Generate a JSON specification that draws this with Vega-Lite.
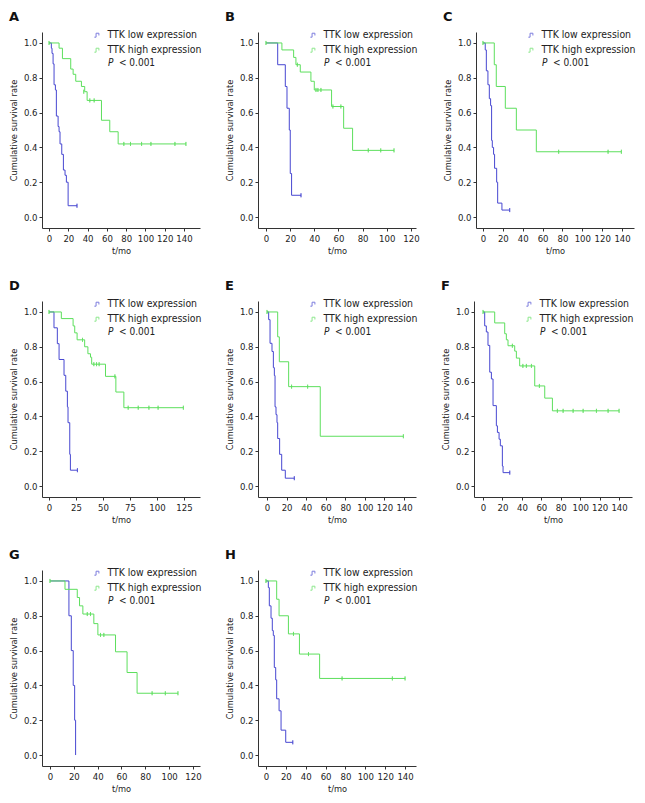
{
  "$schema": "https://vega.github.io/schema/vega-lite/v6.json",
  "padding": {"left": 9, "top": 11, "right": 0, "bottom": 0},
  "config": {
    "font": "DejaVu Sans Condensed, Liberation Sans, sans-serif",
    "view": {"stroke": null},
    "axis": {"grid": false, "domainColor": "#333333", "tickColor": "#333333", "tickSize": 3, "labelFontSize": 9.5, "titleFontSize": 9.2, "titleFontWeight": "normal", "labelColor": "#222222", "titleColor": "#222222", "labelFlush": false, "labelOverlap": false, "labelBound": false},
    "axisX": {"labelPadding": 2, "titlePadding": 4},
    "axisY": {"labelPadding": 2, "titlePadding": 5},
    "legend": {"orient": "top-right", "offset": -2, "padding": 0, "rowPadding": 4, "labelFontSize": 10.4, "labelOffset": 5, "labelColor": "#222222", "symbolType": "M-1,0.7H-0.4V-0.7H0.6V0.1", "symbolSize": 32, "symbolStrokeWidth": 1, "symbolFillColor": "transparent"},
    "title": {"anchor": "start", "frame": "group", "fontSize": 13, "fontWeight": "bold", "font": "DejaVu Sans", "dx": -33, "offset": 6, "color": "#111111"},
    "text": {"fontSize": 10, "color": "#222222"}
  },
  "datasets": {
    "curves": [
      {"p":"A","g":"TTK low expression","t":0,"s":1},{"p":"A","g":"TTK low expression","t":2.4,"s":0.97},{"p":"A","g":"TTK low expression","t":3.1,"s":0.94},{"p":"A","g":"TTK low expression","t":4.2,"s":0.88},{"p":"A","g":"TTK low expression","t":5.2,"s":0.76},{"p":"A","g":"TTK low expression","t":6.6,"s":0.73},{"p":"A","g":"TTK low expression","t":7.6,"s":0.58},{"p":"A","g":"TTK low expression","t":9.4,"s":0.52},{"p":"A","g":"TTK low expression","t":10.4,"s":0.49},{"p":"A","g":"TTK low expression","t":11.4,"s":0.42},{"p":"A","g":"TTK low expression","t":13.2,"s":0.36},{"p":"A","g":"TTK low expression","t":14.9,"s":0.27},{"p":"A","g":"TTK low expression","t":16.6,"s":0.24},{"p":"A","g":"TTK low expression","t":18,"s":0.2},{"p":"A","g":"TTK low expression","t":19.8,"s":0.065},{"p":"A","g":"TTK low expression","t":29,"s":0.065},
      {"p":"A","g":"TTK high expression","t":0,"s":1},{"p":"A","g":"TTK high expression","t":10.4,"s":0.97},{"p":"A","g":"TTK high expression","t":13.9,"s":0.91},{"p":"A","g":"TTK high expression","t":22.5,"s":0.85},{"p":"A","g":"TTK high expression","t":25,"s":0.82},{"p":"A","g":"TTK high expression","t":27.7,"s":0.78},{"p":"A","g":"TTK high expression","t":33.6,"s":0.75},{"p":"A","g":"TTK high expression","t":37,"s":0.72},{"p":"A","g":"TTK high expression","t":39.5,"s":0.67},{"p":"A","g":"TTK high expression","t":54.4,"s":0.556},{"p":"A","g":"TTK high expression","t":63,"s":0.49},{"p":"A","g":"TTK high expression","t":71.7,"s":0.42},{"p":"A","g":"TTK high expression","t":142,"s":0.42},
      {"p":"B","g":"TTK low expression","t":0,"s":1},{"p":"B","g":"TTK low expression","t":9.7,"s":0.875},{"p":"B","g":"TTK low expression","t":16,"s":0.75},{"p":"B","g":"TTK low expression","t":17.4,"s":0.625},{"p":"B","g":"TTK low expression","t":19.3,"s":0.5},{"p":"B","g":"TTK low expression","t":20.1,"s":0.25},{"p":"B","g":"TTK low expression","t":21.2,"s":0.125},{"p":"B","g":"TTK low expression","t":29,"s":0.125},
      {"p":"B","g":"TTK high expression","t":0,"s":1},{"p":"B","g":"TTK high expression","t":13.2,"s":0.96},{"p":"B","g":"TTK high expression","t":22.9,"s":0.917},{"p":"B","g":"TTK high expression","t":24.8,"s":0.875},{"p":"B","g":"TTK high expression","t":28.4,"s":0.833},{"p":"B","g":"TTK high expression","t":37.2,"s":0.78},{"p":"B","g":"TTK high expression","t":40,"s":0.73},{"p":"B","g":"TTK high expression","t":54.3,"s":0.635},{"p":"B","g":"TTK high expression","t":64.3,"s":0.51},{"p":"B","g":"TTK high expression","t":71.7,"s":0.383},{"p":"B","g":"TTK high expression","t":106,"s":0.383},
      {"p":"C","g":"TTK low expression","t":0,"s":1},{"p":"C","g":"TTK low expression","t":2.3,"s":0.96},{"p":"C","g":"TTK low expression","t":3.4,"s":0.84},{"p":"C","g":"TTK low expression","t":5,"s":0.76},{"p":"C","g":"TTK low expression","t":6.4,"s":0.68},{"p":"C","g":"TTK low expression","t":7.7,"s":0.64},{"p":"C","g":"TTK low expression","t":8.7,"s":0.44},{"p":"C","g":"TTK low expression","t":9.4,"s":0.4},{"p":"C","g":"TTK low expression","t":10.7,"s":0.36},{"p":"C","g":"TTK low expression","t":11.7,"s":0.28},{"p":"C","g":"TTK low expression","t":13.8,"s":0.2},{"p":"C","g":"TTK low expression","t":14.8,"s":0.08},{"p":"C","g":"TTK low expression","t":19.1,"s":0.04},{"p":"C","g":"TTK low expression","t":26.9,"s":0.04},
      {"p":"C","g":"TTK high expression","t":0,"s":1},{"p":"C","g":"TTK high expression","t":11.4,"s":0.875},{"p":"C","g":"TTK high expression","t":13.4,"s":0.75},{"p":"C","g":"TTK high expression","t":22.5,"s":0.625},{"p":"C","g":"TTK high expression","t":33.6,"s":0.5},{"p":"C","g":"TTK high expression","t":53.7,"s":0.375},{"p":"C","g":"TTK high expression","t":139.3,"s":0.375},
      {"p":"D","g":"TTK low expression","t":0,"s":1},{"p":"D","g":"TTK low expression","t":4.6,"s":0.909},{"p":"D","g":"TTK low expression","t":7.7,"s":0.818},{"p":"D","g":"TTK low expression","t":9.3,"s":0.727},{"p":"D","g":"TTK low expression","t":13.9,"s":0.636},{"p":"D","g":"TTK low expression","t":15.5,"s":0.545},{"p":"D","g":"TTK low expression","t":17,"s":0.455},{"p":"D","g":"TTK low expression","t":17.6,"s":0.364},{"p":"D","g":"TTK low expression","t":19.2,"s":0.182},{"p":"D","g":"TTK low expression","t":19.8,"s":0.091},{"p":"D","g":"TTK low expression","t":26.3,"s":0.091},
      {"p":"D","g":"TTK high expression","t":0,"s":1},{"p":"D","g":"TTK high expression","t":11.4,"s":0.962},{"p":"D","g":"TTK high expression","t":22.3,"s":0.92},{"p":"D","g":"TTK high expression","t":23.8,"s":0.88},{"p":"D","g":"TTK high expression","t":26,"s":0.84},{"p":"D","g":"TTK high expression","t":33,"s":0.8},{"p":"D","g":"TTK high expression","t":36,"s":0.76},{"p":"D","g":"TTK high expression","t":38.4,"s":0.74},{"p":"D","g":"TTK high expression","t":39.5,"s":0.7},{"p":"D","g":"TTK high expression","t":52.3,"s":0.63},{"p":"D","g":"TTK high expression","t":61.9,"s":0.54},{"p":"D","g":"TTK high expression","t":69.3,"s":0.45},{"p":"D","g":"TTK high expression","t":124.4,"s":0.45},
      {"p":"E","g":"TTK low expression","t":0,"s":1},{"p":"E","g":"TTK low expression","t":1.7,"s":0.956},{"p":"E","g":"TTK low expression","t":3.1,"s":0.82},{"p":"E","g":"TTK low expression","t":5.1,"s":0.773},{"p":"E","g":"TTK low expression","t":6.5,"s":0.68},{"p":"E","g":"TTK low expression","t":7.5,"s":0.635},{"p":"E","g":"TTK low expression","t":8.2,"s":0.455},{"p":"E","g":"TTK low expression","t":9.2,"s":0.41},{"p":"E","g":"TTK low expression","t":10.2,"s":0.364},{"p":"E","g":"TTK low expression","t":10.9,"s":0.273},{"p":"E","g":"TTK low expression","t":12.9,"s":0.182},{"p":"E","g":"TTK low expression","t":15,"s":0.091},{"p":"E","g":"TTK low expression","t":18.7,"s":0.045},{"p":"E","g":"TTK low expression","t":27.9,"s":0.045},
      {"p":"E","g":"TTK high expression","t":0,"s":1},{"p":"E","g":"TTK high expression","t":10.9,"s":0.857},{"p":"E","g":"TTK high expression","t":12.6,"s":0.714},{"p":"E","g":"TTK high expression","t":22.1,"s":0.571},{"p":"E","g":"TTK high expression","t":54.4,"s":0.286},{"p":"E","g":"TTK high expression","t":139.3,"s":0.286},
      {"p":"F","g":"TTK low expression","t":0,"s":1},{"p":"F","g":"TTK low expression","t":1.7,"s":0.92},{"p":"F","g":"TTK low expression","t":3.4,"s":0.885},{"p":"F","g":"TTK low expression","t":5.1,"s":0.808},{"p":"F","g":"TTK low expression","t":6.9,"s":0.654},{"p":"F","g":"TTK low expression","t":8.6,"s":0.615},{"p":"F","g":"TTK low expression","t":10.3,"s":0.462},{"p":"F","g":"TTK low expression","t":13.7,"s":0.346},{"p":"F","g":"TTK low expression","t":14.8,"s":0.308},{"p":"F","g":"TTK low expression","t":16.5,"s":0.269},{"p":"F","g":"TTK low expression","t":17.8,"s":0.231},{"p":"F","g":"TTK low expression","t":19.9,"s":0.115},{"p":"F","g":"TTK low expression","t":20.6,"s":0.077},{"p":"F","g":"TTK low expression","t":27.5,"s":0.077},
      {"p":"F","g":"TTK high expression","t":0,"s":1},{"p":"F","g":"TTK high expression","t":12,"s":0.937},{"p":"F","g":"TTK high expression","t":22.3,"s":0.875},{"p":"F","g":"TTK high expression","t":24,"s":0.84},{"p":"F","g":"TTK high expression","t":25.7,"s":0.806},{"p":"F","g":"TTK high expression","t":32.6,"s":0.775},{"p":"F","g":"TTK high expression","t":34.3,"s":0.735},{"p":"F","g":"TTK high expression","t":37.7,"s":0.69},{"p":"F","g":"TTK high expression","t":53.2,"s":0.575},{"p":"F","g":"TTK high expression","t":63.5,"s":0.505},{"p":"F","g":"TTK high expression","t":71.4,"s":0.432},{"p":"F","g":"TTK high expression","t":140,"s":0.432},
      {"p":"G","g":"TTK low expression","t":0,"s":1},{"p":"G","g":"TTK low expression","t":15.9,"s":0.8},{"p":"G","g":"TTK low expression","t":17.9,"s":0.6},{"p":"G","g":"TTK low expression","t":19.5,"s":0.4},{"p":"G","g":"TTK low expression","t":20.7,"s":0.2},{"p":"G","g":"TTK low expression","t":21.5,"s":0},
      {"p":"G","g":"TTK high expression","t":0,"s":1},{"p":"G","g":"TTK high expression","t":12.6,"s":0.952},{"p":"G","g":"TTK high expression","t":22.9,"s":0.905},{"p":"G","g":"TTK high expression","t":24.8,"s":0.857},{"p":"G","g":"TTK high expression","t":27.6,"s":0.81},{"p":"G","g":"TTK high expression","t":36.8,"s":0.755},{"p":"G","g":"TTK high expression","t":40.2,"s":0.69},{"p":"G","g":"TTK high expression","t":55,"s":0.593},{"p":"G","g":"TTK high expression","t":64.7,"s":0.474},{"p":"G","g":"TTK high expression","t":73.1,"s":0.355},{"p":"G","g":"TTK high expression","t":107.4,"s":0.355},
      {"p":"H","g":"TTK low expression","t":0,"s":1},{"p":"H","g":"TTK low expression","t":2.4,"s":0.962},{"p":"H","g":"TTK low expression","t":3.4,"s":0.857},{"p":"H","g":"TTK low expression","t":5.1,"s":0.786},{"p":"H","g":"TTK low expression","t":6.4,"s":0.715},{"p":"H","g":"TTK low expression","t":7.4,"s":0.687},{"p":"H","g":"TTK low expression","t":8.4,"s":0.503},{"p":"H","g":"TTK low expression","t":9.8,"s":0.432},{"p":"H","g":"TTK low expression","t":10.8,"s":0.323},{"p":"H","g":"TTK low expression","t":13.2,"s":0.254},{"p":"H","g":"TTK low expression","t":15.2,"s":0.143},{"p":"H","g":"TTK low expression","t":19.9,"s":0.073},{"p":"H","g":"TTK low expression","t":27,"s":0.073},
      {"p":"H","g":"TTK high expression","t":0,"s":1},{"p":"H","g":"TTK high expression","t":10.8,"s":0.895},{"p":"H","g":"TTK high expression","t":13.2,"s":0.8},{"p":"H","g":"TTK high expression","t":22.6,"s":0.696},{"p":"H","g":"TTK high expression","t":33.7,"s":0.58},{"p":"H","g":"TTK high expression","t":54,"s":0.44},{"p":"H","g":"TTK high expression","t":140,"s":0.44}
    ],
    "censored": [
      {"p":"A","g":"TTK low expression","t":29,"s":0.065},
      {"p":"A","g":"TTK high expression","t":0,"s":1},{"p":"A","g":"TTK high expression","t":36,"s":0.72},{"p":"A","g":"TTK high expression","t":42.3,"s":0.67},{"p":"A","g":"TTK high expression","t":46.8,"s":0.67},{"p":"A","g":"TTK high expression","t":77.6,"s":0.42},{"p":"A","g":"TTK high expression","t":84.5,"s":0.42},{"p":"A","g":"TTK high expression","t":96,"s":0.42},{"p":"A","g":"TTK high expression","t":105.7,"s":0.42},{"p":"A","g":"TTK high expression","t":130.6,"s":0.42},{"p":"A","g":"TTK high expression","t":142,"s":0.42},
      {"p":"B","g":"TTK low expression","t":29,"s":0.125},
      {"p":"B","g":"TTK high expression","t":0,"s":1},{"p":"B","g":"TTK high expression","t":26,"s":0.875},{"p":"B","g":"TTK high expression","t":41.4,"s":0.73},{"p":"B","g":"TTK high expression","t":43,"s":0.73},{"p":"B","g":"TTK high expression","t":45.5,"s":0.73},{"p":"B","g":"TTK high expression","t":55.4,"s":0.635},{"p":"B","g":"TTK high expression","t":62,"s":0.635},{"p":"B","g":"TTK high expression","t":84.7,"s":0.383},{"p":"B","g":"TTK high expression","t":95,"s":0.383},{"p":"B","g":"TTK high expression","t":106,"s":0.383},
      {"p":"C","g":"TTK low expression","t":26.9,"s":0.04},
      {"p":"C","g":"TTK high expression","t":0,"s":1},{"p":"C","g":"TTK high expression","t":76.2,"s":0.375},{"p":"C","g":"TTK high expression","t":125.9,"s":0.375},{"p":"C","g":"TTK high expression","t":139.3,"s":0.375},
      {"p":"D","g":"TTK low expression","t":26.3,"s":0.091},
      {"p":"D","g":"TTK high expression","t":0,"s":1},{"p":"D","g":"TTK high expression","t":31,"s":0.84},{"p":"D","g":"TTK high expression","t":41.5,"s":0.7},{"p":"D","g":"TTK high expression","t":44,"s":0.7},{"p":"D","g":"TTK high expression","t":46.4,"s":0.7},{"p":"D","g":"TTK high expression","t":61,"s":0.63},{"p":"D","g":"TTK high expression","t":73.3,"s":0.45},{"p":"D","g":"TTK high expression","t":82.6,"s":0.45},{"p":"D","g":"TTK high expression","t":92.5,"s":0.45},{"p":"D","g":"TTK high expression","t":101,"s":0.45},{"p":"D","g":"TTK high expression","t":124.4,"s":0.45},
      {"p":"E","g":"TTK low expression","t":27.9,"s":0.045},
      {"p":"E","g":"TTK high expression","t":0,"s":1},{"p":"E","g":"TTK high expression","t":25.1,"s":0.571},{"p":"E","g":"TTK high expression","t":41.5,"s":0.571},{"p":"E","g":"TTK high expression","t":139.3,"s":0.286},
      {"p":"F","g":"TTK low expression","t":27.5,"s":0.077},
      {"p":"F","g":"TTK high expression","t":0,"s":1},{"p":"F","g":"TTK high expression","t":30.2,"s":0.806},{"p":"F","g":"TTK high expression","t":41,"s":0.69},{"p":"F","g":"TTK high expression","t":44.6,"s":0.69},{"p":"F","g":"TTK high expression","t":49.8,"s":0.69},{"p":"F","g":"TTK high expression","t":58,"s":0.575},{"p":"F","g":"TTK high expression","t":76.5,"s":0.432},{"p":"F","g":"TTK high expression","t":82.4,"s":0.432},{"p":"F","g":"TTK high expression","t":92.7,"s":0.432},{"p":"F","g":"TTK high expression","t":103,"s":0.432},{"p":"F","g":"TTK high expression","t":116.7,"s":0.432},{"p":"F","g":"TTK high expression","t":128.7,"s":0.432},{"p":"F","g":"TTK high expression","t":140,"s":0.432},
      {"p":"G","g":"TTK high expression","t":0,"s":1},{"p":"G","g":"TTK high expression","t":31.3,"s":0.81},{"p":"G","g":"TTK high expression","t":34,"s":0.81},{"p":"G","g":"TTK high expression","t":42.4,"s":0.69},{"p":"G","g":"TTK high expression","t":45.2,"s":0.69},{"p":"G","g":"TTK high expression","t":85.7,"s":0.355},{"p":"G","g":"TTK high expression","t":96.8,"s":0.355},{"p":"G","g":"TTK high expression","t":107.4,"s":0.355},
      {"p":"H","g":"TTK low expression","t":27,"s":0.073},
      {"p":"H","g":"TTK high expression","t":0,"s":1},{"p":"H","g":"TTK high expression","t":27.7,"s":0.696},{"p":"H","g":"TTK high expression","t":42.8,"s":0.58},{"p":"H","g":"TTK high expression","t":76.6,"s":0.44},{"p":"H","g":"TTK high expression","t":127.2,"s":0.44},{"p":"H","g":"TTK high expression","t":140,"s":0.44}
    ]
  },
  "resolve": {"scale": {"color": "independent", "x": "independent", "y": "independent"}, "legend": {"color": "independent"}},
  "spacing": 24,
  "vconcat": [
    {
      "spacing": 23,
      "resolve": {"scale": {"color": "independent", "x": "independent", "y": "independent"}, "legend": {"color": "independent"}},
      "hconcat": [
        {
          "title": "A", "width": 158, "height": 196,
          "layer": [
            {"data": {"name": "curves"}, "transform": [{"filter": {"field": "p", "equal": "A"}}], "mark": {"type": "line", "interpolate": "step-after", "strokeWidth": 1},
             "encoding": {"x": {"field": "t", "type": "quantitative", "scale": {"domain": [-7.3, 156.6], "nice": false, "zero": false}, "axis": {"values": [0, 20, 40, 60, 80, 100, 120, 140], "tickCount": 20, "labelOverlap": false, "title": "t/mo"}},
                          "y": {"field": "s", "type": "quantitative", "scale": {"domain": [-0.063, 1.063], "nice": false, "zero": false}, "axis": {"values": [0, 0.2, 0.4, 0.6, 0.8, 1], "tickCount": 20, "labelOverlap": false, "format": ".1f", "title": "Cumulative survival rate"}},
                          "color": {"field": "g", "type": "nominal", "scale": {"domain": ["TTK low expression", "TTK high expression"], "range": ["#4747d1", "#5ddf5d"]}, "legend": {"title": null}}}},
            {"data": {"name": "censored"}, "transform": [{"filter": {"field": "p", "equal": "A"}}], "mark": {"type": "tick", "orient": "vertical", "size": 4, "thickness": 0.01, "filled": false, "strokeWidth": 1},
             "encoding": {"x": {"field": "t", "type": "quantitative"}, "y": {"field": "s", "type": "quantitative"}, "color": {"field": "g", "type": "nominal"}}},
            {"data": {"values": [{}]}, "mark": {"type": "text", "text": "P", "fontStyle": "italic", "align": "left", "baseline": "middle"}, "encoding": {"x": {"datum": 61.1, "type": "quantitative"}, "y": {"datum": 0.885, "type": "quantitative"}}},
            {"data": {"values": [{}]}, "mark": {"type": "text", "text": "< 0.001", "dx": 11, "align": "left", "baseline": "middle"}, "encoding": {"x": {"datum": 61.1, "type": "quantitative"}, "y": {"datum": 0.885, "type": "quantitative"}}}
          ]
        },
        {
          "title": "B", "width": 158, "height": 196,
          "layer": [
            {"data": {"name": "curves"}, "transform": [{"filter": {"field": "p", "equal": "B"}}], "mark": {"type": "line", "interpolate": "step-after", "strokeWidth": 1},
             "encoding": {"x": {"field": "t", "type": "quantitative", "scale": {"domain": [-6.6, 124.2], "nice": false, "zero": false}, "axis": {"values": [0, 20, 40, 60, 80, 100, 120], "tickCount": 20, "labelOverlap": false, "title": "t/mo"}},
                          "y": {"field": "s", "type": "quantitative", "scale": {"domain": [-0.063, 1.063], "nice": false, "zero": false}, "axis": {"values": [0, 0.2, 0.4, 0.6, 0.8, 1], "tickCount": 20, "labelOverlap": false, "format": ".1f", "title": "Cumulative survival rate"}},
                          "color": {"field": "g", "type": "nominal", "scale": {"domain": ["TTK low expression", "TTK high expression"], "range": ["#4747d1", "#5ddf5d"]}, "legend": {"title": null}}}},
            {"data": {"name": "censored"}, "transform": [{"filter": {"field": "p", "equal": "B"}}], "mark": {"type": "tick", "orient": "vertical", "size": 4, "thickness": 0.01, "filled": false, "strokeWidth": 1},
             "encoding": {"x": {"field": "t", "type": "quantitative"}, "y": {"field": "s", "type": "quantitative"}, "color": {"field": "g", "type": "nominal"}}},
            {"data": {"values": [{}]}, "mark": {"type": "text", "text": "P", "fontStyle": "italic", "align": "left", "baseline": "middle"}, "encoding": {"x": {"datum": 48.1, "type": "quantitative"}, "y": {"datum": 0.885, "type": "quantitative"}}},
            {"data": {"values": [{}]}, "mark": {"type": "text", "text": "< 0.001", "dx": 11, "align": "left", "baseline": "middle"}, "encoding": {"x": {"datum": 48.1, "type": "quantitative"}, "y": {"datum": 0.885, "type": "quantitative"}}}
          ]
        },
        {
          "title": "C", "width": 158, "height": 196,
          "layer": [
            {"data": {"name": "curves"}, "transform": [{"filter": {"field": "p", "equal": "C"}}], "mark": {"type": "line", "interpolate": "step-after", "strokeWidth": 1},
             "encoding": {"x": {"field": "t", "type": "quantitative", "scale": {"domain": [-7, 152], "nice": false, "zero": false}, "axis": {"values": [0, 20, 40, 60, 80, 100, 120, 140], "tickCount": 20, "labelOverlap": false, "title": "t/mo"}},
                          "y": {"field": "s", "type": "quantitative", "scale": {"domain": [-0.063, 1.063], "nice": false, "zero": false}, "axis": {"values": [0, 0.2, 0.4, 0.6, 0.8, 1], "tickCount": 20, "labelOverlap": false, "format": ".1f", "title": "Cumulative survival rate"}},
                          "color": {"field": "g", "type": "nominal", "scale": {"domain": ["TTK low expression", "TTK high expression"], "range": ["#4747d1", "#5ddf5d"]}, "legend": {"title": null}}}},
            {"data": {"name": "censored"}, "transform": [{"filter": {"field": "p", "equal": "C"}}], "mark": {"type": "tick", "orient": "vertical", "size": 4, "thickness": 0.01, "filled": false, "strokeWidth": 1},
             "encoding": {"x": {"field": "t", "type": "quantitative"}, "y": {"field": "s", "type": "quantitative"}, "color": {"field": "g", "type": "nominal"}}},
            {"data": {"values": [{}]}, "mark": {"type": "text", "text": "P", "fontStyle": "italic", "align": "left", "baseline": "middle"}, "encoding": {"x": {"datum": 59.4, "type": "quantitative"}, "y": {"datum": 0.885, "type": "quantitative"}}},
            {"data": {"values": [{}]}, "mark": {"type": "text", "text": "< 0.001", "dx": 11, "align": "left", "baseline": "middle"}, "encoding": {"x": {"datum": 59.4, "type": "quantitative"}, "y": {"datum": 0.885, "type": "quantitative"}}}
          ]
        }
      ]
    },
    {
      "spacing": 23,
      "resolve": {"scale": {"color": "independent", "x": "independent", "y": "independent"}, "legend": {"color": "independent"}},
      "hconcat": [
        {
          "title": "D", "width": 158, "height": 196,
          "layer": [
            {"data": {"name": "curves"}, "transform": [{"filter": {"field": "p", "equal": "D"}}], "mark": {"type": "line", "interpolate": "step-after", "strokeWidth": 1},
             "encoding": {"x": {"field": "t", "type": "quantitative", "scale": {"domain": [-6.5, 139.8], "nice": false, "zero": false}, "axis": {"values": [0, 25, 50, 75, 100, 125], "tickCount": 20, "labelOverlap": false, "title": "t/mo"}},
                          "y": {"field": "s", "type": "quantitative", "scale": {"domain": [-0.063, 1.063], "nice": false, "zero": false}, "axis": {"values": [0, 0.2, 0.4, 0.6, 0.8, 1], "tickCount": 20, "labelOverlap": false, "format": ".1f", "title": "Cumulative survival rate"}},
                          "color": {"field": "g", "type": "nominal", "scale": {"domain": ["TTK low expression", "TTK high expression"], "range": ["#4747d1", "#5ddf5d"]}, "legend": {"title": null}}}},
            {"data": {"name": "censored"}, "transform": [{"filter": {"field": "p", "equal": "D"}}], "mark": {"type": "tick", "orient": "vertical", "size": 4, "thickness": 0.01, "filled": false, "strokeWidth": 1},
             "encoding": {"x": {"field": "t", "type": "quantitative"}, "y": {"field": "s", "type": "quantitative"}, "color": {"field": "g", "type": "nominal"}}},
            {"data": {"values": [{}]}, "mark": {"type": "text", "text": "P", "fontStyle": "italic", "align": "left", "baseline": "middle"}, "encoding": {"x": {"datum": 54.7, "type": "quantitative"}, "y": {"datum": 0.885, "type": "quantitative"}}},
            {"data": {"values": [{}]}, "mark": {"type": "text", "text": "< 0.001", "dx": 11, "align": "left", "baseline": "middle"}, "encoding": {"x": {"datum": 54.7, "type": "quantitative"}, "y": {"datum": 0.885, "type": "quantitative"}}}
          ]
        },
        {
          "title": "E", "width": 158, "height": 196,
          "layer": [
            {"data": {"name": "curves"}, "transform": [{"filter": {"field": "p", "equal": "E"}}], "mark": {"type": "line", "interpolate": "step-after", "strokeWidth": 1},
             "encoding": {"x": {"field": "t", "type": "quantitative", "scale": {"domain": [-9.2, 152.2], "nice": false, "zero": false}, "axis": {"values": [0, 20, 40, 60, 80, 100, 120, 140], "tickCount": 20, "labelOverlap": false, "title": "t/mo"}},
                          "y": {"field": "s", "type": "quantitative", "scale": {"domain": [-0.063, 1.063], "nice": false, "zero": false}, "axis": {"values": [0, 0.2, 0.4, 0.6, 0.8, 1], "tickCount": 20, "labelOverlap": false, "format": ".1f", "title": "Cumulative survival rate"}},
                          "color": {"field": "g", "type": "nominal", "scale": {"domain": ["TTK low expression", "TTK high expression"], "range": ["#4747d1", "#5ddf5d"]}, "legend": {"title": null}}}},
            {"data": {"name": "censored"}, "transform": [{"filter": {"field": "p", "equal": "E"}}], "mark": {"type": "tick", "orient": "vertical", "size": 4, "thickness": 0.01, "filled": false, "strokeWidth": 1},
             "encoding": {"x": {"field": "t", "type": "quantitative"}, "y": {"field": "s", "type": "quantitative"}, "color": {"field": "g", "type": "nominal"}}},
            {"data": {"values": [{}]}, "mark": {"type": "text", "text": "P", "fontStyle": "italic", "align": "left", "baseline": "middle"}, "encoding": {"x": {"datum": 58.2, "type": "quantitative"}, "y": {"datum": 0.885, "type": "quantitative"}}},
            {"data": {"values": [{}]}, "mark": {"type": "text", "text": "< 0.001", "dx": 11, "align": "left", "baseline": "middle"}, "encoding": {"x": {"datum": 58.2, "type": "quantitative"}, "y": {"datum": 0.885, "type": "quantitative"}}}
          ]
        },
        {
          "title": "F", "width": 158, "height": 196,
          "layer": [
            {"data": {"name": "curves"}, "transform": [{"filter": {"field": "p", "equal": "F"}}], "mark": {"type": "line", "interpolate": "step-after", "strokeWidth": 1},
             "encoding": {"x": {"field": "t", "type": "quantitative", "scale": {"domain": [-9.3, 153.3], "nice": false, "zero": false}, "axis": {"values": [0, 20, 40, 60, 80, 100, 120, 140], "tickCount": 20, "labelOverlap": false, "title": "t/mo"}},
                          "y": {"field": "s", "type": "quantitative", "scale": {"domain": [-0.063, 1.063], "nice": false, "zero": false}, "axis": {"values": [0, 0.2, 0.4, 0.6, 0.8, 1], "tickCount": 20, "labelOverlap": false, "format": ".1f", "title": "Cumulative survival rate"}},
                          "color": {"field": "g", "type": "nominal", "scale": {"domain": ["TTK low expression", "TTK high expression"], "range": ["#4747d1", "#5ddf5d"]}, "legend": {"title": null}}}},
            {"data": {"name": "censored"}, "transform": [{"filter": {"field": "p", "equal": "F"}}], "mark": {"type": "tick", "orient": "vertical", "size": 4, "thickness": 0.01, "filled": false, "strokeWidth": 1},
             "encoding": {"x": {"field": "t", "type": "quantitative"}, "y": {"field": "s", "type": "quantitative"}, "color": {"field": "g", "type": "nominal"}}},
            {"data": {"values": [{}]}, "mark": {"type": "text", "text": "P", "fontStyle": "italic", "align": "left", "baseline": "middle"}, "encoding": {"x": {"datum": 58.6, "type": "quantitative"}, "y": {"datum": 0.885, "type": "quantitative"}}},
            {"data": {"values": [{}]}, "mark": {"type": "text", "text": "< 0.001", "dx": 11, "align": "left", "baseline": "middle"}, "encoding": {"x": {"datum": 58.6, "type": "quantitative"}, "y": {"datum": 0.885, "type": "quantitative"}}}
          ]
        }
      ]
    },
    {
      "spacing": 23,
      "resolve": {"scale": {"color": "independent", "x": "independent", "y": "independent"}, "legend": {"color": "independent"}},
      "hconcat": [
        {
          "title": "G", "width": 158, "height": 196,
          "layer": [
            {"data": {"name": "curves"}, "transform": [{"filter": {"field": "p", "equal": "G"}}], "mark": {"type": "line", "interpolate": "step-after", "strokeWidth": 1},
             "encoding": {"x": {"field": "t", "type": "quantitative", "scale": {"domain": [-6.7, 125.9], "nice": false, "zero": false}, "axis": {"values": [0, 20, 40, 60, 80, 100, 120], "tickCount": 20, "labelOverlap": false, "title": "t/mo"}},
                          "y": {"field": "s", "type": "quantitative", "scale": {"domain": [-0.063, 1.063], "nice": false, "zero": false}, "axis": {"values": [0, 0.2, 0.4, 0.6, 0.8, 1], "tickCount": 20, "labelOverlap": false, "format": ".1f", "title": "Cumulative survival rate"}},
                          "color": {"field": "g", "type": "nominal", "scale": {"domain": ["TTK low expression", "TTK high expression"], "range": ["#4747d1", "#5ddf5d"]}, "legend": {"title": null}}}},
            {"data": {"name": "censored"}, "transform": [{"filter": {"field": "p", "equal": "G"}}], "mark": {"type": "tick", "orient": "vertical", "size": 4, "thickness": 0.01, "filled": false, "strokeWidth": 1},
             "encoding": {"x": {"field": "t", "type": "quantitative"}, "y": {"field": "s", "type": "quantitative"}, "color": {"field": "g", "type": "nominal"}}},
            {"data": {"values": [{}]}, "mark": {"type": "text", "text": "P", "fontStyle": "italic", "align": "left", "baseline": "middle"}, "encoding": {"x": {"datum": 48.7, "type": "quantitative"}, "y": {"datum": 0.885, "type": "quantitative"}}},
            {"data": {"values": [{}]}, "mark": {"type": "text", "text": "< 0.001", "dx": 11, "align": "left", "baseline": "middle"}, "encoding": {"x": {"datum": 48.7, "type": "quantitative"}, "y": {"datum": 0.885, "type": "quantitative"}}}
          ]
        },
        {
          "title": "H", "width": 158, "height": 196,
          "layer": [
            {"data": {"name": "curves"}, "transform": [{"filter": {"field": "p", "equal": "H"}}], "mark": {"type": "line", "interpolate": "step-after", "strokeWidth": 1},
             "encoding": {"x": {"field": "t", "type": "quantitative", "scale": {"domain": [-8, 151], "nice": false, "zero": false}, "axis": {"values": [0, 20, 40, 60, 80, 100, 120, 140], "tickCount": 20, "labelOverlap": false, "title": "t/mo"}},
                          "y": {"field": "s", "type": "quantitative", "scale": {"domain": [-0.063, 1.063], "nice": false, "zero": false}, "axis": {"values": [0, 0.2, 0.4, 0.6, 0.8, 1], "tickCount": 20, "labelOverlap": false, "format": ".1f", "title": "Cumulative survival rate"}},
                          "color": {"field": "g", "type": "nominal", "scale": {"domain": ["TTK low expression", "TTK high expression"], "range": ["#4747d1", "#5ddf5d"]}, "legend": {"title": null}}}},
            {"data": {"name": "censored"}, "transform": [{"filter": {"field": "p", "equal": "H"}}], "mark": {"type": "tick", "orient": "vertical", "size": 4, "thickness": 0.01, "filled": false, "strokeWidth": 1},
             "encoding": {"x": {"field": "t", "type": "quantitative"}, "y": {"field": "s", "type": "quantitative"}, "color": {"field": "g", "type": "nominal"}}},
            {"data": {"values": [{}]}, "mark": {"type": "text", "text": "P", "fontStyle": "italic", "align": "left", "baseline": "middle"}, "encoding": {"x": {"datum": 58.4, "type": "quantitative"}, "y": {"datum": 0.885, "type": "quantitative"}}},
            {"data": {"values": [{}]}, "mark": {"type": "text", "text": "< 0.001", "dx": 11, "align": "left", "baseline": "middle"}, "encoding": {"x": {"datum": 58.4, "type": "quantitative"}, "y": {"datum": 0.885, "type": "quantitative"}}}
          ]
        }
      ]
    }
  ]
}
